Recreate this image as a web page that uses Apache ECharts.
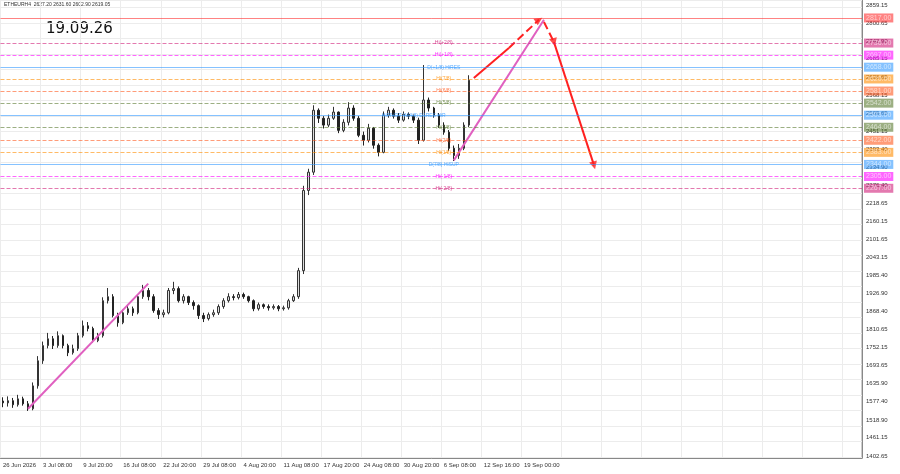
<!DOCTYPE html>
<html>
<head>
<meta charset="utf-8">
<script src="https://cdn.jsdelivr.net/npm/echarts@6/dist/echarts.min.js"></script>
<style>
html, body { margin: 0; padding: 0; background: #fff; }
#main { width: 900px; height: 474px; }
</style>
</head>
<body>
<div id="main"></div>
<script>
// ETHEUR H4, about one candle every ~19h
const closes = [1574, 1581, 1568, 1587, 1571, 1555, 1629, 1710, 1759, 1781,
    1759, 1791, 1759, 1736, 1749, 1791, 1823, 1814, 1775, 1791,
    1904, 1917, 1856, 1833, 1865, 1878, 1865, 1917, 1937, 1917,
    1872, 1859, 1865, 1937, 1943, 1904, 1917, 1898, 1888, 1856,
    1846, 1859, 1865, 1885, 1904, 1917, 1914, 1924, 1917, 1904,
    1878, 1891, 1885, 1881, 1885, 1878, 1881, 1904, 1917, 2001,
    2260, 2319, 2519, 2493, 2471, 2493, 2513, 2454, 2480, 2526,
    2493, 2438, 2422, 2461, 2406, 2383, 2503, 2519, 2500, 2487,
    2506, 2500, 2487, 2422, 2552, 2526, 2503, 2471, 2448, 2396,
    2373, 2396, 2471, 2616];
const opens = [1580, 1574, 1581, 1568, 1587, 1571, 1555, 1629, 1710, 1759,
    1781, 1759, 1791, 1759, 1736, 1749, 1791, 1823, 1814, 1775,
    1791, 1904, 1917, 1856, 1833, 1865, 1878, 1865, 1917, 1937,
    1917, 1872, 1859, 1865, 1937, 1943, 1904, 1917, 1898, 1888,
    1856, 1846, 1859, 1865, 1885, 1904, 1917, 1914, 1924, 1917,
    1904, 1878, 1891, 1885, 1881, 1885, 1878, 1881, 1904, 1917,
    2001, 2260, 2319, 2519, 2493, 2471, 2493, 2513, 2454, 2480,
    2526, 2493, 2438, 2422, 2461, 2406, 2383, 2503, 2519, 2500,
    2487, 2506, 2500, 2487, 2422, 2552, 2526, 2503, 2471, 2448,
    2396, 2373, 2396, 2471];
const highs = [1592, 1595, 1590, 1600, 1594, 1580, 1640, 1725, 1772, 1800,
    1790, 1805, 1795, 1765, 1762, 1800, 1840, 1835, 1820, 1800,
    1915, 1945, 1925, 1865, 1875, 1890, 1885, 1925, 1955, 1945,
    1925, 1880, 1875, 1945, 1965, 1950, 1925, 1920, 1905, 1892,
    1865, 1866, 1875, 1892, 1912, 1928, 1925, 1932, 1930, 1920,
    1908, 1898, 1895, 1892, 1892, 1890, 1888, 1910, 1925, 2010,
    2275, 2330, 2535, 2525, 2500, 2505, 2530, 2515, 2490, 2545,
    2535, 2500, 2450, 2475, 2465, 2412, 2515, 2530, 2525, 2510,
    2515, 2512, 2505, 2495, 2665, 2560, 2530, 2510, 2480, 2455,
    2405, 2410, 2480, 2632];
const lows = [1560, 1562, 1558, 1562, 1565, 1548, 1550, 1620, 1700, 1750,
    1748, 1752, 1750, 1725, 1730, 1742, 1785, 1805, 1768, 1770,
    1785, 1895, 1850, 1820, 1828, 1858, 1855, 1860, 1910, 1905,
    1865, 1845, 1850, 1860, 1925, 1898, 1895, 1890, 1875, 1845,
    1835, 1840, 1852, 1858, 1878, 1898, 1905, 1908, 1910, 1898,
    1870, 1872, 1878, 1872, 1875, 1870, 1872, 1875, 1900, 1910,
    1990, 2245, 2310, 2478, 2460, 2465, 2488, 2445, 2448, 2470,
    2485, 2432, 2405, 2415, 2395, 2370, 2380, 2495, 2492, 2478,
    2482, 2490, 2478, 2410, 2418, 2515, 2495, 2462, 2440, 2388,
    2355, 2362, 2390, 2465];
const slotCount = 172;
const tickLabels = ['26 Jun 2026', '3 Jul 08:00', '9 Jul 20:00', '16 Jul 08:00', '22 Jul 20:00',
    '29 Jul 08:00', '4 Aug 20:00', '11 Aug 08:00', '17 Aug 20:00', '24 Aug 08:00',
    '30 Aug 20:00', '6 Sep 08:00', '12 Sep 16:00', '19 Sep 00:00'];
const priceTicks = [2859.15, 2800.65, 2742.90, 2685.15, 2626.65, 2568.15, 2509.65, 2451.15,
    2393.40, 2334.90, 2276.40, 2218.65, 2160.15, 2101.65, 2043.15, 1985.40, 1926.90,
    1868.40, 1810.65, 1752.15, 1693.65, 1635.90, 1577.40, 1518.90, 1461.15, 1402.65];

// levels: [price, colour, dashed, text]
const levels = [
    [2817, '#ff3030', false, ''],
    [2736, '#d0207a', true, 'Hi(+2/8)'],
    [2697, '#ff00ff', true, 'Hi(+1/8)'],
    [2658, '#3399ff', false, 'D(+1/8) HiRES'],
    [2620, '#ff8c00', true, 'Hi(7/8)'],
    [2581, '#ff5a1f', true, 'Hi(6/8)'],
    [2542, '#5a7a30', true, 'Hi(5/8)'],
    [2503, '#3399ff', false, 'HiPIVOT W(4/8) D1RES HiR'],
    [2464, '#5a7a30', true, 'Hi(3/8)'],
    [2422, '#ff5a1f', true, 'Hi(2/8)'],
    [2383, '#ff8c00', true, 'Hi(1/8)'],
    [2344, '#3399ff', false, 'D(7/8) HiSUP'],
    [2305, '#ff00ff', true, 'Hi(-1/8)'],
    [2267, '#d0207a', true, 'Hi(-2/8)']
];
const lastPrice = 2629;

const pinkLine1 = [[5, 1555], [28.6, 1959]];
const pinkLine2 = [[90, 2357], [108, 2811]];
const redUp = [[94, 2623], [101, 2720]];
const redUpDash = [[101, 2720], [107, 2811]];
const redDownDash = [[108, 2804], [109.6, 2739]];
const redDown = [[109.6, 2739], [118, 2341]];

const cats = [];
for (let i = 0; i < slotCount; i++) cats.push('c' + i);
const candles = closes.map((c, i) => [opens[i], c, lows[i], highs[i]]);

const chart = echarts.init(document.querySelector('#main'));

const levelLines = levels.map(l => ({
    yAxis: l[0],
    lineStyle: { color: l[1], type: l[2] ? 'dashed' : 'solid', width: 1, opacity: 0.6 },
    label: {
        show: true, position: 'end', formatter: l[0].toFixed(2),
        backgroundColor: l[1], color: '#fff', fontSize: 7, padding: [1, 2], distance: 2
    }
}));
levelLines.push({
    yAxis: lastPrice,
    lineStyle: { opacity: 0 },
    label: { show: true, position: 'end', formatter: lastPrice.toFixed(2), backgroundColor: '#000', color: '#fff', fontSize: 7, padding: [1, 2], distance: 2 }
});

function seg(pts, color, dashed) {
    return {
        type: 'line', data: pts, symbol: 'none', silent: true,
        lineStyle: { color: color, width: 2, type: dashed ? 'dashed' : 'solid' }
    };
}

const textData = levels.filter(l => l[3]).map(l => ({
    value: [l[3].length > 14 ? 82 : 88, l[0]],
    label: { formatter: l[3], color: l[1] }
}));

const option = {
    animation: false,
    grid: { left: 0, right: 38, top: 0, bottom: 16, show: true, borderColor: '#999' },
    xAxis: {
        type: 'category', data: cats, boundaryGap: true,
        axisLine: { lineStyle: { color: '#888' } },
        axisTick: { show: false },
        axisLabel: {
            interval: 0, fontSize: 6, color: '#333', align: 'left', margin: 4,
            formatter: (v, i) => (i % 8 === 0 && tickLabels[i / 8]) ? tickLabels[i / 8] : ''
        },
        splitLine: { show: true, interval: (i) => i % 8 === 0, lineStyle: { color: '#ececec' } }
    },
    yAxis: {
        type: 'value', position: 'right', min: 1396, max: 2875, scale: true,
        axisLine: { show: true, lineStyle: { color: '#888' } },
        axisTick: { show: false },
        axisLabel: { fontSize: 6, color: '#333', margin: 4, customValues: priceTicks, formatter: v => v.toFixed(2) },
        splitLine: { show: true, lineStyle: { color: '#ececec' } },
        splitNumber: 25
    },
    graphic: [
        { type: 'text', left: 4, top: 2, style: { text: 'ETHEURH4  2627.20 2631.60 2602.90 2619.05', fontSize: 5, fill: '#333' } },
        { type: 'text', left: 46, top: 22, style: { text: '19.09.26', fontSize: 15, fontFamily: 'DejaVu Sans', fill: '#111' } }
    ],
    series: [
        {
            type: 'candlestick', data: candles, barWidth: 2,
            itemStyle: { color: '#ddd', color0: '#222', borderColor: '#333', borderColor0: '#222', borderWidth: 1 },
            markLine: { symbol: 'none', silent: true, data: levelLines }
        },
        seg(pinkLine1, '#e060c0', false),
        seg(pinkLine2, '#e060c0', false),
        seg(redUp, '#ff2020', false),
        seg(redUpDash, '#ff2020', true),
        seg(redDownDash, '#ff2020', true),
        seg(redDown, '#ff2020', false),
        {
            type: 'scatter', silent: true, symbol: 'triangle', symbolSize: 8,
            itemStyle: { color: '#ff2020' },
            data: [
                { value: redUpDash[1], symbolRotate: -57 },
                { value: redDownDash[1], symbolRotate: 195 },
                { value: redDown[1], symbolRotate: 195 }
            ]
        },
        {
            type: 'scatter', silent: true, symbolSize: 0, data: textData,
            label: { show: true, position: 'inside', fontSize: 5 }
        }
    ]
};

chart.setOption(option);
</script>
</body>
</html>
